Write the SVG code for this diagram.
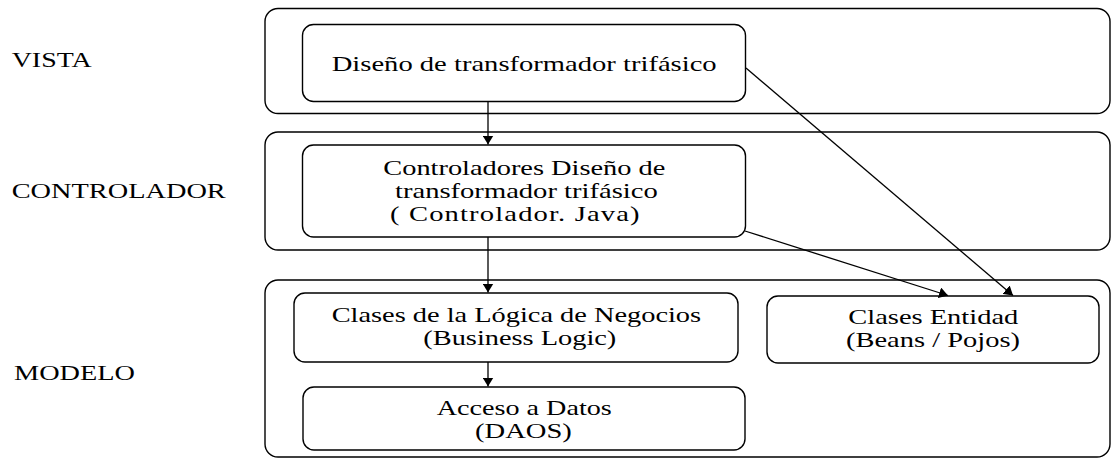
<svg xmlns="http://www.w3.org/2000/svg" width="1111" height="459" viewBox="0 0 1111 459">
<defs>
<style>
.lane{fill:none;stroke:#000;stroke-width:1.4}
.box{fill:#fff;stroke:#000;stroke-width:1.4}
.t{font-family:"Liberation Serif","Times New Roman",serif;font-size:22px;fill:#000}
.c{stroke:#000;stroke-width:1.3;fill:none;marker-end:url(#ah)}
</style>
<marker id="ah" viewBox="0 0 9 11" markerWidth="9" markerHeight="11" refX="9" refY="5.5" orient="auto" markerUnits="userSpaceOnUse" preserveAspectRatio="none">
<path d="M0,0 L9,5.5 L0,11 z" fill="#000"/>
</marker>
</defs>
<rect width="1111" height="459" fill="#fff"/>

<g id="lane-vista">
<rect class="lane" x="265" y="8.5" width="845" height="105" rx="13" ry="13"/>
<text class="t" transform="translate(11.7,67) scale(1.27,1)">VISTA</text>
</g>
<g id="lane-controlador">
<rect class="lane" x="265" y="132" width="845" height="118" rx="13" ry="13"/>
<text class="t" transform="translate(11.7,198) scale(1.288,1)">CONTROLADOR</text>
</g>
<g id="lane-modelo">
<rect class="lane" x="265" y="280" width="845" height="177" rx="13" ry="13"/>
<text class="t" transform="translate(14,380) scale(1.286,1)">MODELO</text>
</g>

<g id="node-diseno">
<rect class="box" x="302.5" y="24.5" width="443" height="77" rx="11" ry="11"/>
<text class="t" transform="translate(331.7,71) scale(1.3,1)">Diseño de transformador trifásico</text>
</g>
<g id="node-controladores">
<rect class="box" x="302.5" y="145" width="443" height="92" rx="11" ry="11"/>
<text class="t" transform="translate(383.3,175) scale(1.29,1)">Controladores Diseño de</text>
<text class="t" transform="translate(395,198) scale(1.3,1)">transformador trifásico</text>
<text class="t" transform="translate(390,221) scale(1.3,1)" textLength="192" lengthAdjust="spacing">( Controlador. Java)</text>
</g>
<g id="node-logica">
<rect class="box" x="294" y="293" width="444" height="69" rx="11" ry="11"/>
<text class="t" transform="translate(331.7,322) scale(1.29,1)">Clases de la Lógica de Negocios</text>
<text class="t" transform="translate(423.3,345) scale(1.29,1)">(Business Logic)</text>
</g>
<g id="node-daos">
<rect class="box" x="303" y="387" width="442" height="63" rx="11" ry="11"/>
<text class="t" transform="translate(436.7,415) scale(1.28,1)">Acceso a Datos</text>
<text class="t" transform="translate(475,438) scale(1.3,1)">(DAOS)</text>
</g>
<g id="node-entidad">
<rect class="box" x="767" y="296" width="332" height="67" rx="11" ry="11"/>
<text class="t" transform="translate(848.3,324) scale(1.294,1)">Clases Entidad</text>
<text class="t" transform="translate(846,347) scale(1.294,1)">(Beans / Pojos)</text>
</g>

<g id="connectors">
<line class="c" x1="488" y1="101.5" x2="488" y2="144.5"/>
<line class="c" x1="488" y1="237" x2="488" y2="292.5"/>
<line class="c" x1="488" y1="362" x2="488" y2="386.5"/>
<line class="c" x1="746" y1="68" x2="1013" y2="295.5"/>
<line class="c" x1="745" y1="231" x2="948" y2="295.5"/>
</g>
</svg>
